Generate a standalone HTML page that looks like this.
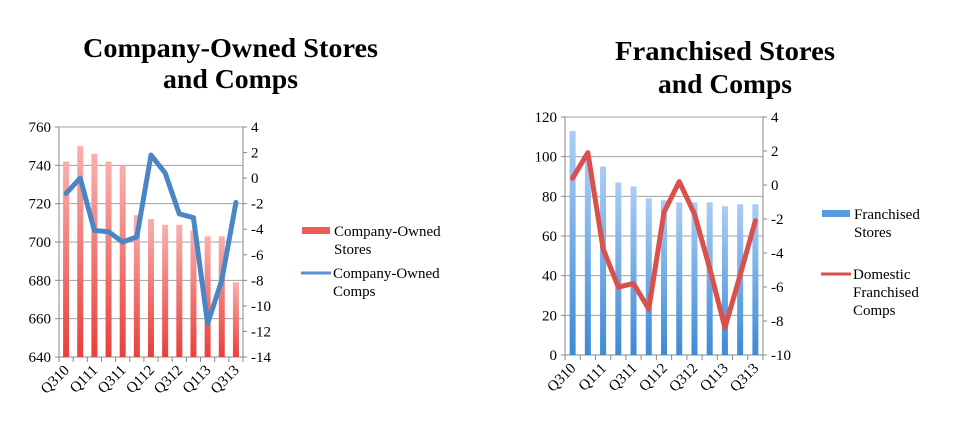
<!DOCTYPE html>
<html><head><meta charset="utf-8"><style>
body{margin:0;background:#fff;}
svg{display:block;font-family:"Liberation Serif",serif;}
</style></head><body>
<svg id="c" width="960" height="436">
<defs>
<linearGradient id="gr" x1="0" y1="0" x2="0" y2="1"><stop offset="0" stop-color="#f9b0ad"/><stop offset="1" stop-color="#e8403c"/></linearGradient>
<linearGradient id="gb" x1="0" y1="0" x2="0" y2="1"><stop offset="0" stop-color="#a9cdf6"/><stop offset="1" stop-color="#3d8ad6"/></linearGradient>
</defs>
<text x="83" y="57" font-size="27" font-weight="bold" textLength="295" lengthAdjust="spacingAndGlyphs">Company-Owned Stores</text>
<text x="163" y="88" font-size="27" font-weight="bold" textLength="135" lengthAdjust="spacingAndGlyphs">and Comps</text>
<text x="615" y="60" font-size="27" font-weight="bold" textLength="220" lengthAdjust="spacingAndGlyphs">Franchised Stores</text>
<text x="658" y="93" font-size="27" font-weight="bold" textLength="134" lengthAdjust="spacingAndGlyphs">and Comps</text>
</svg>
<script>
const categories=["Q310","Q410","Q111","Q211","Q311","Q411","Q112","Q212","Q312","Q412","Q113","Q213","Q313"];
const companyStores=[742,750,746,742,740,714,712,709,709,706,703,703,679];
const companyComps=[-1.2,0,-4.1,-4.2,-5,-4.6,1.8,0.4,-2.8,-3.1,-11.4,-8,-1.9];
const franchStores=[113,99,95,87,85,79,78,77,77,77,75,76,76];
const franchComps=[0.4,1.9,-3.75,-6.0,-5.8,-7.3,-1.6,0.2,-1.7,-4.9,-8.4,-5.3,-2.1];
const leftTicks=[640,660,680,700,720,740,760];
const leftRTicks=[-14,-12,-10,-8,-6,-4,-2,0,2,4];
const rightTicks=[0,20,40,60,80,100,120];
const rightRTicks=[-10,-8,-6,-4,-2,0,2,4];
const svg=document.getElementById('c');
const NS="http://www.w3.org/2000/svg";
function mk(t,a,txt){const e=document.createElementNS(NS,t);for(const k in a)e.setAttribute(k,a[k]);if(txt!==undefined)e.textContent=txt;svg.appendChild(e);return e;}
function chart(o){
  const {x0,x1,y0,y1,lmin,lmax,rmin,rmax,lt,rt,bars,line,grad,color,pre}=o;
  const band=(x1-x0)/categories.length;
  const xs=i=>x0+band*(i+0.5);
  const yl=v=>y1-(v-lmin)/(lmax-lmin)*(y1-y0);
  const yr=v=>y1-(v-rmin)/(rmax-rmin)*(y1-y0);
  lt.forEach(v=>{
    const g=mk('line',{x1:x0,x2:x1,y1:yl(v),y2:yl(v),stroke:'#a0a0a0','stroke-width':1});
    
    
    const t=mk('text',{x:x0-8,y:yl(v)+5,'text-anchor':'end','font-size':15},String(v));
    
    
    mk('line',{x1:x0-4,x2:x0,y1:yl(v),y2:yl(v),stroke:'#888'});
  });
  rt.forEach(v=>{
    mk('line',{x1:x1,x2:x1+4,y1:yr(v),y2:yr(v),stroke:'#888'});
    const t=mk('text',{x:x1+8,y:yr(v)+5,'font-size':15},String(v));
    
    
  });
  mk('line',{x1:x0,x2:x0,y1:y0,y2:y1,stroke:'#888'});
  mk('line',{x1:x1,x2:x1,y1:y0,y2:y1,stroke:'#888'});
  mk('line',{x1:x0,x2:x1,y1:y1,y2:y1,stroke:'#888'});
  bars.forEach((v,i)=>{
    const b=mk('rect',{x:xs(i)-3,y:yl(v),width:6,height:y1-yl(v),fill:'url(#'+grad+')'});
    
    
    mk('line',{x1:x0+band*i,x2:x0+band*i,y1:y1,y2:y1+5,stroke:'#888'});
  });
  mk('line',{x1:x1,x2:x1,y1:y1,y2:y1+5,stroke:'#888'});
  categories.forEach((c,i)=>{
    if(i%2)return;
    const t=mk('text',{x:xs(i)+4,y:y1+14,'text-anchor':'end','font-size':15,transform:`rotate(-45 ${xs(i)+4} ${y1+14})`},c);
    
    
  });
  const p=mk('polyline',{points:line.map((v,i)=>xs(i)+','+yr(v)).join(' '),fill:'none',stroke:color,'stroke-width':5,'stroke-linejoin':'round','stroke-linecap':'round'});
  
  
}
chart({x0:59,x1:243,y0:127,y1:357,lmin:640,lmax:760,rmin:-14,rmax:4,lt:leftTicks,rt:leftRTicks,bars:companyStores,line:companyComps,grad:'gr',color:'#4a86c6',pre:'left'});
chart({x0:565,x1:763,y0:117,y1:355,lmin:0,lmax:120,rmin:-10,rmax:4,lt:rightTicks,rt:rightRTicks,bars:franchStores,line:franchComps,grad:'gb',color:'#d9504c',pre:'right'});
function leg(items){items.forEach(it=>{
  let m;
  if(it.type==='rect'){m=mk('rect',{x:it.x,y:it.y-4,width:28,height:7,fill:it.fill});}
  else{m=mk('line',{x1:it.x,x2:it.x+30,y1:it.y,y2:it.y,stroke:it.fill,'stroke-width':3});}
  
  
  it.lines.forEach((l,k)=>{
    const t=mk('text',{x:it.x+32,y:it.y+5+k*18,'font-size':15},l);
    
    
  });
});}
leg([
 {type:'rect',x:302,y:231,fill:'#ef5a57',lines:['Company-Owned','Stores'],name:'legend-company-stores'},
 {type:'line',x:301,y:273,fill:'#5b8fd0',lines:['Company-Owned','Comps'],name:'legend-company-comps'},
 {type:'rect',x:822,y:214,fill:'#5a9ae0',lines:['Franchised','Stores'],name:'legend-franchised-stores'},
 {type:'line',x:821,y:274,fill:'#d9504c',lines:['Domestic','Franchised','Comps'],name:'legend-franchised-comps'}
]);
</script>
</body></html>
